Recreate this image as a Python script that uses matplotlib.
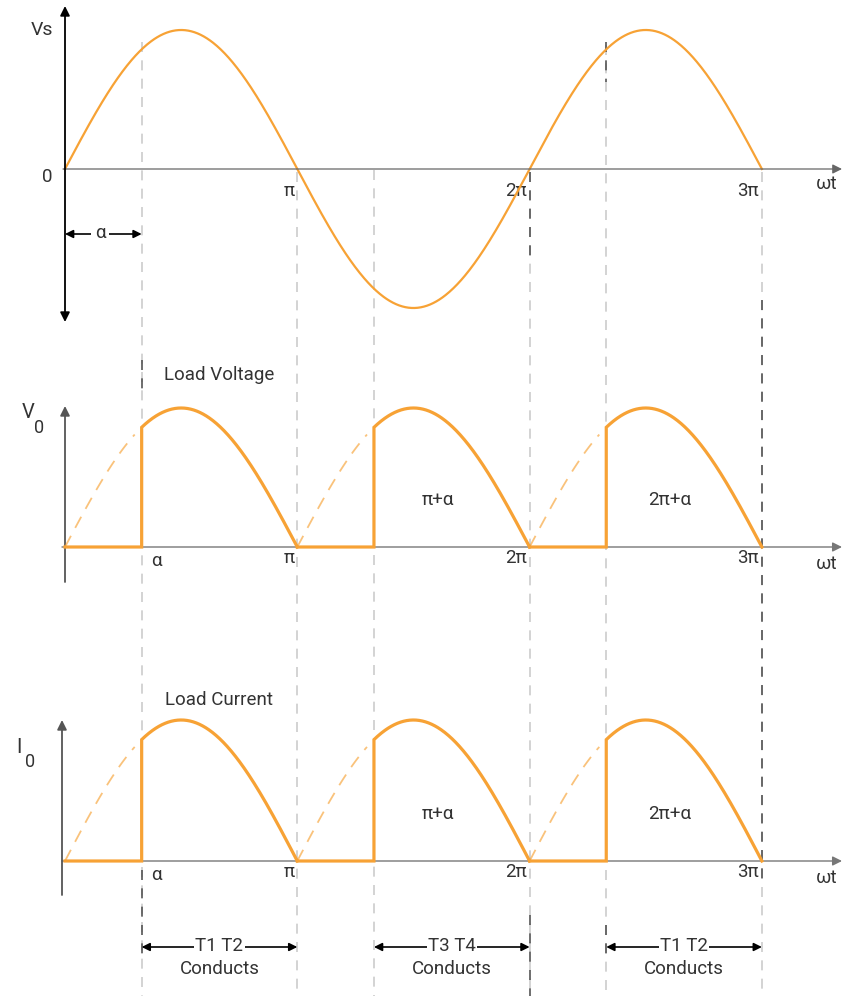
import numpy as np
import matplotlib
matplotlib.use("Agg")
import matplotlib.pyplot as plt

plt.rcParams['font.family'] = ['Roboto', 'DejaVu Sans']

# ---------------- data ----------------
alpha = 0.33                      # firing angle, in units of pi
periods = [0, 1, 2]               # half-cycles drawn (k*pi .. (k+1)*pi)
tick_pos = [1, 2, 3]              # in units of pi
tick_labels = ["π", "2π", "3π"]
guide_pos = [alpha, 1, 1 + alpha, 2, 2 + alpha, 3]
guide_top = [42, 172, 170, 172, 45, 172]       # pixel y where each guide starts
dark_segments = [(alpha, 360, 395), (alpha, 870, 960), (2, 172, 262),
                 (2, 915, 996), (3, 300, 880), (2 + alpha, 42, 82), (2 + alpha, 925, 960)]
conduct_ranges = [(alpha, 1), (1 + alpha, 2), (2 + alpha, 3)]
conduct_labels = ["T1 T2", "T3 T4", "T1 T2"]
angle_labels = ["π+α", "2π+α"]
angle_label_pos = [1.6, 2.6]

ORANGE = "#F7A235"
W, H = 846, 996
X_ORIGIN, PI_PX = 65, 232.3
X0, X1 = -X_ORIGIN / PI_PX, (W - X_ORIGIN) / PI_PX
FS = 13.5


def ux(px):
    return (px - X_ORIGIN) / PI_PX


fig = plt.figure(figsize=(W / 100, H / 100), dpi=100)
fig.patch.set_facecolor("white")

# overlay axes: x in pi units, y in pixels (for guides & annotations)
ov = fig.add_axes([0, 0, 1, 1])
ov.set_xlim(X0, X1)
ov.set_ylim(H, 0)
ov.axis("off")

for gx, gt in zip(guide_pos, guide_top):
    ln, = ov.plot([gx, gx], [gt, H], color="#cccccc", lw=1.2)
    ln.set_dashes((6, 5))
for gx, a, b in dark_segments:
    ln, = ov.plot([gx, gx], [a, b], color="#555555", lw=1.2)
    ln.set_dashes((6, 5))


def panel(top_px, bot_px, base_px, amp_px):
    ax = fig.add_axes([0, 1 - bot_px / H, 1, (bot_px - top_px) / H])
    ax.set_xlim(X0, X1)
    ax.set_ylim((base_px - bot_px) / amp_px, (base_px - top_px) / amp_px)
    ax.axis("off")
    ax.patch.set_alpha(0)
    return ax


TXT = dict(color="#333333", fontsize=FS)

# ---------------- panel 1: supply voltage ----------------
ax1 = panel(0, 340, 169, 139)
xs = np.linspace(0, 3, 900)
ax1.plot(xs, np.sin(np.pi * xs), color=ORANGE, lw=1.6, zorder=3)
ax1.annotate("", xy=(ux(842), 0), xytext=(ux(63), 0),
             arrowprops=dict(arrowstyle="-|>", color="#666666", lw=0.9,
                             mutation_scale=14, shrinkA=0, shrinkB=0))
ax1.annotate("", xy=(0, (169 - 6) / 139), xytext=(0, (169 - 322) / 139),
             arrowprops=dict(arrowstyle="<|-|>", color="black", lw=1.3,
                             mutation_scale=14, shrinkA=0, shrinkB=0))

ov.text(ux(42), 30, "Vs", ha="center", va="center", fontsize=14, color="#333333")
ov.text(ux(47), 177, "0", ha="center", va="center", **TXT)
for p, lab in zip(tick_pos, tick_labels):
    ov.text(p - 0.012, 191, lab, ha="right", va="center", **TXT)
ov.text(ux(827), 184, "ωt", ha="center", va="center", **TXT)
ov.annotate("", xy=(alpha, 234), xytext=(0, 234),
            arrowprops=dict(arrowstyle="<|-|>", color="black", lw=1.2,
                            mutation_scale=12, shrinkA=0, shrinkB=0))
ov.text(ux(100), 233, "α", ha="center", va="center", color="#333333", fontsize=FS,
        bbox=dict(facecolor="white", edgecolor="none", pad=3))


# ---------------- load waveforms ----------------
def load_panel(ax, label, label_y, sym, sym_xy, sub_xy, y_tick, axis_x, top_arrow, bot_axis):
    # horizontal axis
    ax.annotate("", xy=(ux(842), 0), xytext=(ux(62), 0),
                arrowprops=dict(arrowstyle="-|>", color="#777777", lw=1.0,
                                mutation_scale=14, shrinkA=0, shrinkB=0))
    # vertical axis
    ax.annotate("", xy=(axis_x, top_arrow), xytext=(axis_x, bot_axis),
                arrowprops=dict(arrowstyle="-|>", color="#555555", lw=1.3,
                                mutation_scale=14, shrinkA=0, shrinkB=0))
    for k in periods:
        # dashed (not conducting) part of |sin|
        xd = np.linspace(k, k + alpha - 0.03, 100)
        ln, = ax.plot(xd, np.abs(np.sin(np.pi * xd)), color=ORANGE, lw=1.3, alpha=0.65, zorder=3)
        ln.set_dashes((7, 5))
        # conducting part
        xc = np.linspace(k + alpha, k + 1, 300)
        xw = np.concatenate([[k, k + alpha], xc])
        yw = np.concatenate([[0, 0], np.abs(np.sin(np.pi * xc))])
        ax.plot(xw, yw, color=ORANGE, lw=2.3, zorder=4, solid_joinstyle="miter")
    ov.text(ux(219), label_y, label, ha="center", va="center", **TXT)
    ov.text(sym_xy[0], sym_xy[1], sym, ha="center", va="center", fontsize=14.5, color="#333333")
    ov.text(sub_xy[0], sub_xy[1], "0", ha="center", va="center", fontsize=13, color="#333333")
    ov.text(alpha + 0.04, y_tick, "α", ha="left", va="center", **TXT)
    for p, lab in zip(tick_pos, tick_labels):
        ov.text(p - 0.012, y_tick - 3, lab, ha="right", va="center", **TXT)
    ov.text(ux(827), y_tick + 3, "ωt", ha="center", va="center", **TXT)


ax2 = panel(340, 640, 547, 139)
load_panel(ax2, "Load Voltage", 375, "V", (ux(28), 412), (ux(39), 428), 561,
           0, (547 - 406) / 139, (547 - 582) / 139)
for p, lab in zip(angle_label_pos, angle_labels):
    ov.text(p + 0.005, 500, lab, ha="center", va="center", **TXT)

ax3 = panel(640, 910, 861, 141)
load_panel(ax3, "Load Current", 700, "I", (ux(19), 747), (ux(30), 762), 875,
           ux(62), (861 - 720) / 141, (861 - 895) / 141)
for p, lab in zip(angle_label_pos, angle_labels):
    ov.text(p + 0.005, 814, lab, ha="center", va="center", **TXT)

# ---------------- conduction intervals ----------------
for (a, b), lab in zip(conduct_ranges, conduct_labels):
    ov.annotate("", xy=(b, 947), xytext=(a, 947),
                arrowprops=dict(arrowstyle="<|-|>", color="black", lw=1.2,
                                mutation_scale=12, shrinkA=0, shrinkB=0))
    ov.text((a + b) / 2, 946, lab, ha="center", va="center", color="#333333", fontsize=FS,
            bbox=dict(facecolor="white", edgecolor="none", pad=1))
    ov.text((a + b) / 2, 969, "Conducts", ha="center", va="center", **TXT)

fig.savefig("out.png", dpi=100, facecolor="white")
